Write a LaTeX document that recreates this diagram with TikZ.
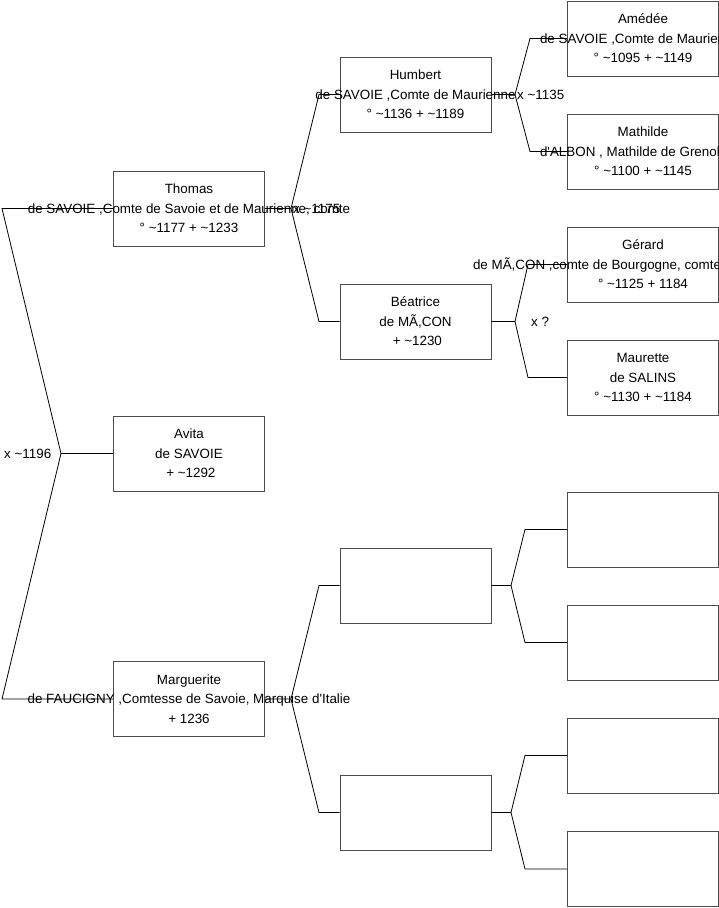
\documentclass[tikz,border=0pt]{standalone}
\usepackage{fontspec}
\setmainfont{Liberation Sans}[Ligatures=TeXOff]
\newcommand\pline[1]{\makebox[0pt]{#1}}
\newcommand\pleft[2]{\makebox[0pt][l]{\hspace*{#1}#2}\hspace*{0pt}}
\newcommand\tld{\textasciitilde}
\begin{document}
\begin{tikzpicture}[x=1pt,y=-1pt,
  person/.style={draw=black!70,line width=0.9pt,minimum width=151pt,minimum height=75pt,inner sep=0pt,align=center,font=\fontsize{13.4}{19.5}\selectfont},
  link/.style={draw=black,line width=0.8pt},
  union/.style={inner sep=0pt,anchor=west,font=\fontsize{13.4}{15}\selectfont}]
\useasboundingbox (0,0) rectangle (719,908);
\clip (0,0) rectangle (719,908);
\fill[white] (0,0) rectangle (719,908);
% generation 1
\node[person] (thomas) at (189,208.5) {\pline{Thomas}\\\pline{de SAVOIE ,Comte de Savoie et de Maurienne, comte}\\\pline{° \tld1177 + \tld1233}};
\node[person] (avita) at (189,453.5) {\pline{Avita}\\\pline{de SAVOIE}\\\pline{\ + \tld1292}};
\node[person] (marg) at (189,699) {\pline{Marguerite}\\\pline{de FAUCIGNY ,Comtesse de Savoie, Marquise d'Italie}\\\pline{+ 1236}};
% generation 2
\node[person] (humbert) at (415.5,94.5) {\pline{Humbert}\\\pline{de SAVOIE ,Comte de Maurienne}\\\pline{° \tld1136 + \tld1189}};
\node[person] (beatrice) at (415.5,321.5) {\pline{Béatrice}\\\pline{de MÃ,CON}\\\pline{\ + \tld1230}};
\node[person] (bA) at (415.5,585.5) {};
\node[person] (bB) at (415.5,812.5) {};
% generation 3
\node[person] (amedee) at (643,38.5) {\pline{Amédée}\\\pleft{-103pt}{de SAVOIE ,Comte de Maurienne}\\\pline{° \tld1095 + \tld1149}};
\node[person] (mathilde) at (643,151.5) {\pline{Mathilde}\\\pleft{-103pt}{d'ALBON , Mathilde de Grenoble}\\\pline{° \tld1100 + \tld1145}};
\node[person] (gerard) at (643,264.5) {\pline{Gérard}\\\pleft{-170pt}{de MÃ,CON ,comte de Bourgogne, comte}\\\pline{° \tld1125 + 1184}};
\node[person] (maurette) at (643,377.5) {\pline{Maurette}\\\pline{de SALINS}\\\pline{° \tld1130 + \tld1184}};
\node[person] (bC) at (643,529.5) {};
\node[person] (bD) at (643,642.5) {};
\node[person] (bE) at (643,755.5) {};
\node[person] (bF) at (643,869) {};
% union labels
\node[union] (uR) at (4,453.5) {x \tld1196};
\node[union] (uT) at (293,208.5) {x \tld1175};
\node[union] (uH) at (517,94.5) {x \tld1135};
\node[union] (uB) at (531,321.5) {x ?};
% fork points
\coordinate (fR) at (61,453.5);
\coordinate (eR1) at (2,208.5);
\coordinate (eR2) at (2,699);
\coordinate (fT) at (291,208.5);
\coordinate (eT1) at (319,94.5);
\coordinate (eT2) at (319,321.5);
\coordinate (fM) at (291,699);
\coordinate (eM1) at (319,585.5);
\coordinate (eM2) at (319,812.5);
\coordinate (fH) at (515,94.5);
\coordinate (eH1) at (530,38.5);
\coordinate (eH2) at (530,151.5);
\coordinate (fB) at (515,321.5);
\coordinate (eB1) at (528,264.5);
\coordinate (eB2) at (528,377.5);
\coordinate (fA) at (511,585.5);
\coordinate (eA1) at (525,529.5);
\coordinate (eA2) at (525,642.5);
\coordinate (fBB) at (511,812.5);
\coordinate (eBB1) at (525,755.5);
\coordinate (eBB2) at (525,869);
% connectors
\draw[link] (avita.west) -- (fR) -- (eR1) -- (thomas.west);
\draw[link] (fR) -- (eR2) -- (marg.west);
\draw[link] (thomas.east) -- (fT) -- (eT1) -- (humbert.west);
\draw[link] (fT) -- (eT2) -- (beatrice.west);
\draw[link] (marg.east) -- (fM) -- (eM1) -- (bA.west);
\draw[link] (fM) -- (eM2) -- (bB.west);
\draw[link] (humbert.east) -- (fH) -- (eH1) -- (amedee.west);
\draw[link] (fH) -- (eH2) -- (mathilde.west);
\draw[link] (beatrice.east) -- (fB) -- (eB1) -- (gerard.west);
\draw[link] (fB) -- (eB2) -- (maurette.west);
\draw[link] (bA.east) -- (fA) -- (eA1) -- (bC.west);
\draw[link] (fA) -- (eA2) -- (bD.west);
\draw[link] (bB.east) -- (fBB) -- (eBB1) -- (bE.west);
\draw[link] (fBB) -- (eBB2) -- (bF.west);
\end{tikzpicture}
\end{document}
